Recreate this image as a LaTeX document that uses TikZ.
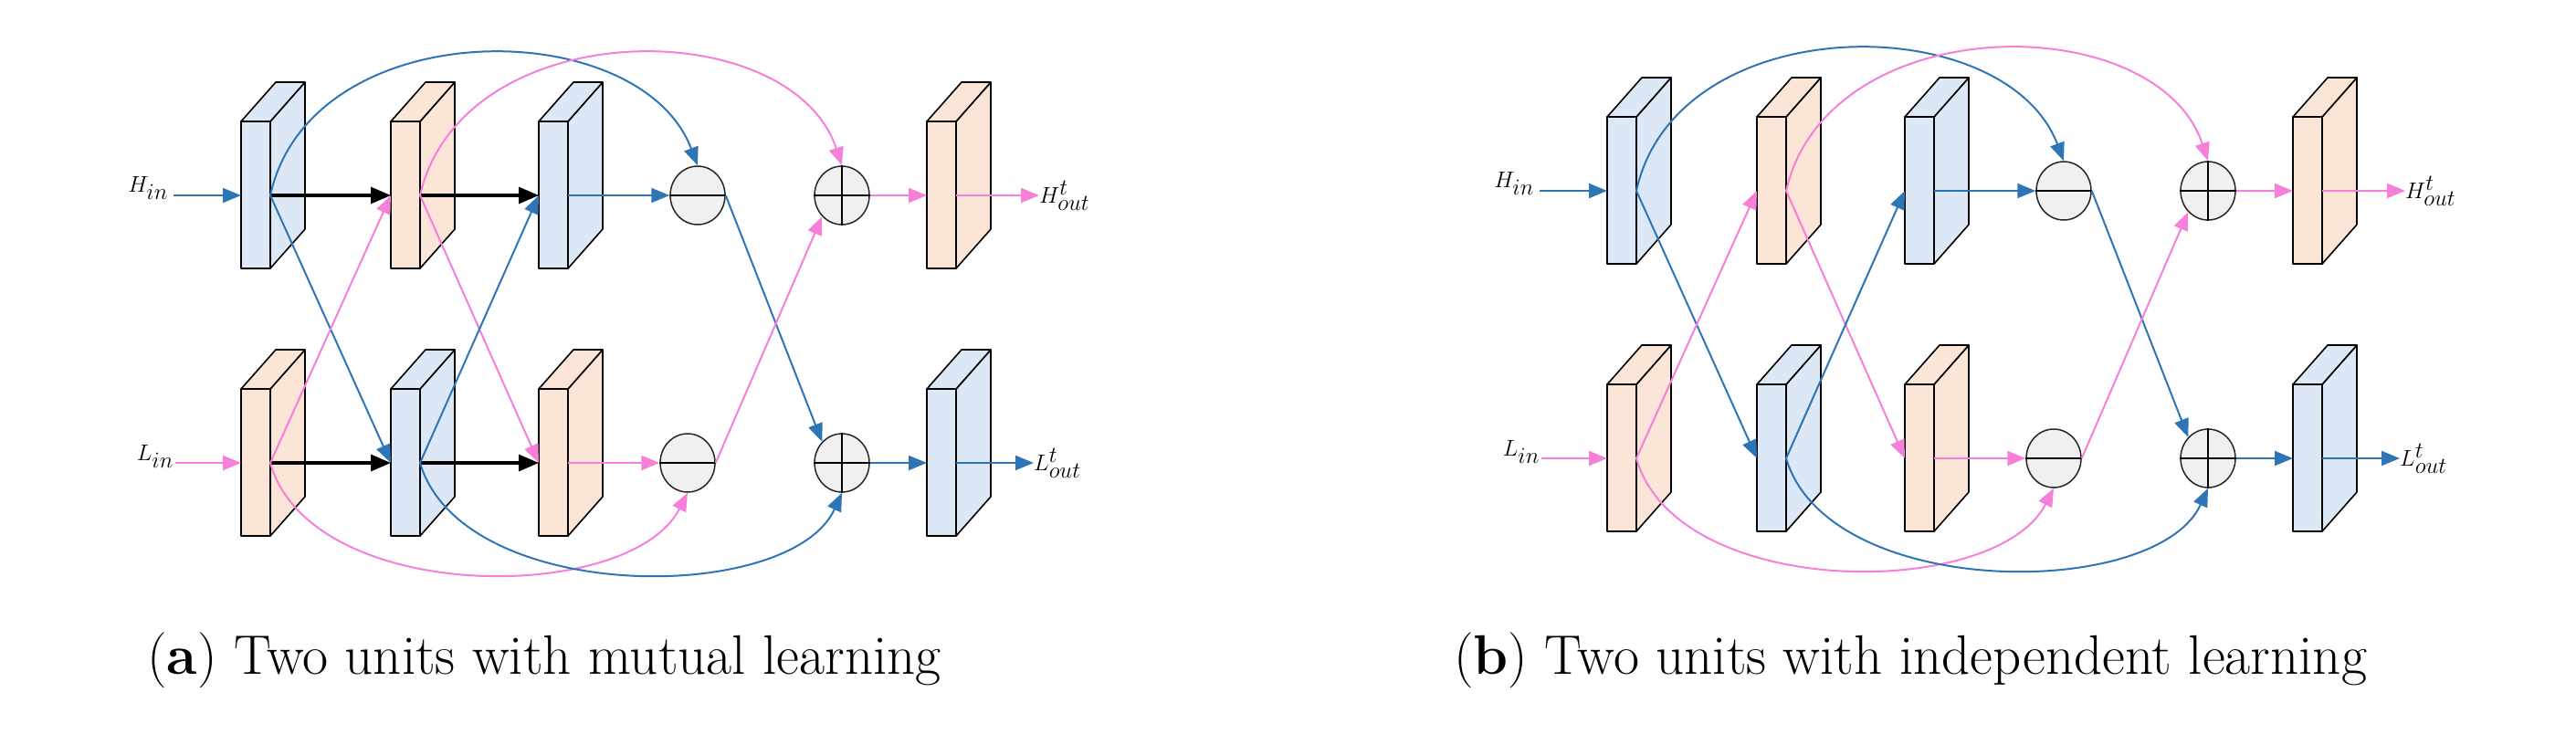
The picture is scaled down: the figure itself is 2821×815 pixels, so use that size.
\documentclass[tikz,border=0pt]{standalone}
\usetikzlibrary{arrows.meta,shapes.geometric}
\definecolor{bfill}{HTML}{DCE8F5}
\definecolor{ofill}{HTML}{FBE5D6}
\definecolor{bline}{HTML}{2E75B6}
\definecolor{pline}{HTML}{F57FD9}
\tikzset{
  blk/.style={draw=black,line width=1.6pt,line join=round},
  op/.style={draw=black!85,line width=1.5pt,fill=black!6,ellipse,minimum width=60pt,minimum height=64pt,inner sep=0pt},
  bar/.style={line width=2pt,-{Triangle[length=20pt,width=16pt]}},
  ba/.style={bline,bar},
  pa/.style={pline,bar},
  ka/.style={black,line width=3.2pt,-{Triangle[length=22pt,width=18pt]}},
  lab/.style={inner sep=0pt,font=\fontsize{66}{70}\selectfont},
  captxt/.style={inner sep=0pt,anchor=base west,font=\fontsize{61}{70}\selectfont}
}
% block: prefix name, x of front left, y center, fill
\newcommand\myblk[4]{%
  \filldraw[blk,fill=#4] (#2+32,#3-81) -- (#2+70,#3-124) -- (#2+70,#3+37) -- (#2+32,#3+80) -- cycle;
  \filldraw[blk,fill=#4] (#2,#3-81) -- (#2+38,#3-124) -- (#2+70,#3-124) -- (#2+32,#3-81) -- cycle;
  \filldraw[blk,fill=#4] (#2,#3-81) rectangle (#2+32,#3+80);
  \draw[line width=2.6pt] (#2,#3-81) -- (#2,#3+80);
  \coordinate (#1i) at (#2,#3);
  \coordinate (#1o) at (#2+32,#3);
}
\newcommand\myunit[2]{%
  \myblk{#1H1}{264}{214}{bfill}
  \myblk{#1H2}{428}{214}{ofill}
  \myblk{#1H3}{590}{214}{bfill}
  \myblk{#1H4}{1015}{214}{ofill}
  \myblk{#1L1}{264}{507}{ofill}
  \myblk{#1L2}{428}{507}{bfill}
  \myblk{#1L3}{590}{507}{ofill}
  \myblk{#1L4}{1015}{507}{bfill}
  \node[op] (#1mt) at (764,214) {};
  \draw[line width=1.5pt] (#1mt.west) -- (#1mt.east);
  \node[op] (#1pt) at (922,214) {};
  \draw[line width=1.5pt] (#1pt.west) -- (#1pt.east) (#1pt.north) -- (#1pt.south);
  \node[op] (#1mb) at (753,507) {};
  \draw[line width=1.5pt] (#1mb.west) -- (#1mb.east);
  \node[op] (#1pb) at (922,507) {};
  \draw[line width=1.5pt] (#1pb.west) -- (#1pb.east) (#1pb.north) -- (#1pb.south);
  \node[lab,anchor=east] (#1hin) at (184,206) {$H_{in}$};
  \node[lab,anchor=east] (#1lin) at (190,500) {$L_{in}$};
  \node[lab,anchor=west] (#1hout) at (1138,214) {$H^{t}_{out}$};
  \node[lab,anchor=west] (#1lout) at (1132,507) {$L^{t}_{out}$};
  % inputs
  \draw[ba] (#1hin.east |- #1H1i) ++(6,0) coordinate (#1a) -- (#1H1i);
  \draw[pa] (#1lin.east |- #1L1i) ++(2,0) coordinate (#1b) -- (#1L1i);
  \ifnum#2=1
    \draw[ka] (#1H1o) -- (#1H2i);
    \draw[ka] (#1H2o) -- (#1H3i);
    \draw[ka] (#1L1o) -- (#1L2i);
    \draw[ka] (#1L2o) -- (#1L3i);
  \fi
  % crossings
  \draw[ba] (#1H1o) -- (#1L2i);
  \draw[pa] (#1L1o) -- (#1H2i);
  \draw[pa] (#1H2o) -- (#1L3i);
  \draw[ba] (#1L2o) -- (#1H3i);
  \draw[ba] (#1H3o) -- (#1mt.west);
  \draw[pa] (#1L3o) -- (#1mb.west);
  \draw[ba] (#1mt.east) -- (#1pb.north west);
  \draw[pa] (#1mb.east) -- (#1pt.south west);
  % arcs
  \draw[ba] (#1H1o) .. controls (340,13) and (700,13) .. (#1mt.north);
  \draw[pa] (#1H2o) .. controls (506,13) and (866,13) .. (#1pt.north);
  \draw[pa] (#1L1o) .. controls (340,663) and (690,663) .. (#1mb.south);
  \draw[ba] (#1L2o) .. controls (506,663) and (866,663) .. (#1pb.south);
  % outputs
  \draw[pa] (#1pt.east) -- (#1H4i);
  \draw[pa] (#1H4o) -- (#1hout.west |- #1H4o);
  \draw[ba] (#1pb.east) -- (#1L4i);
  \draw[ba] (#1L4o) -- (#1lout.west |- #1L4o);
}
\begin{document}
\begin{tikzpicture}[x=1pt,y=-1pt]
\useasboundingbox (0,0) rectangle (2821,815);
\myunit{a}{1}
\begin{scope}[xshift=1496pt,yshift=5pt]
\myunit{b}{0}
\end{scope}
\node[captxt] (capa) at (161,738) {(\textbf{a}) Two units with mutual learning};
\node[captxt] (capb) at (1592,738) {(\textbf{b}) Two units with independent learning};
\end{tikzpicture}
\end{document}
